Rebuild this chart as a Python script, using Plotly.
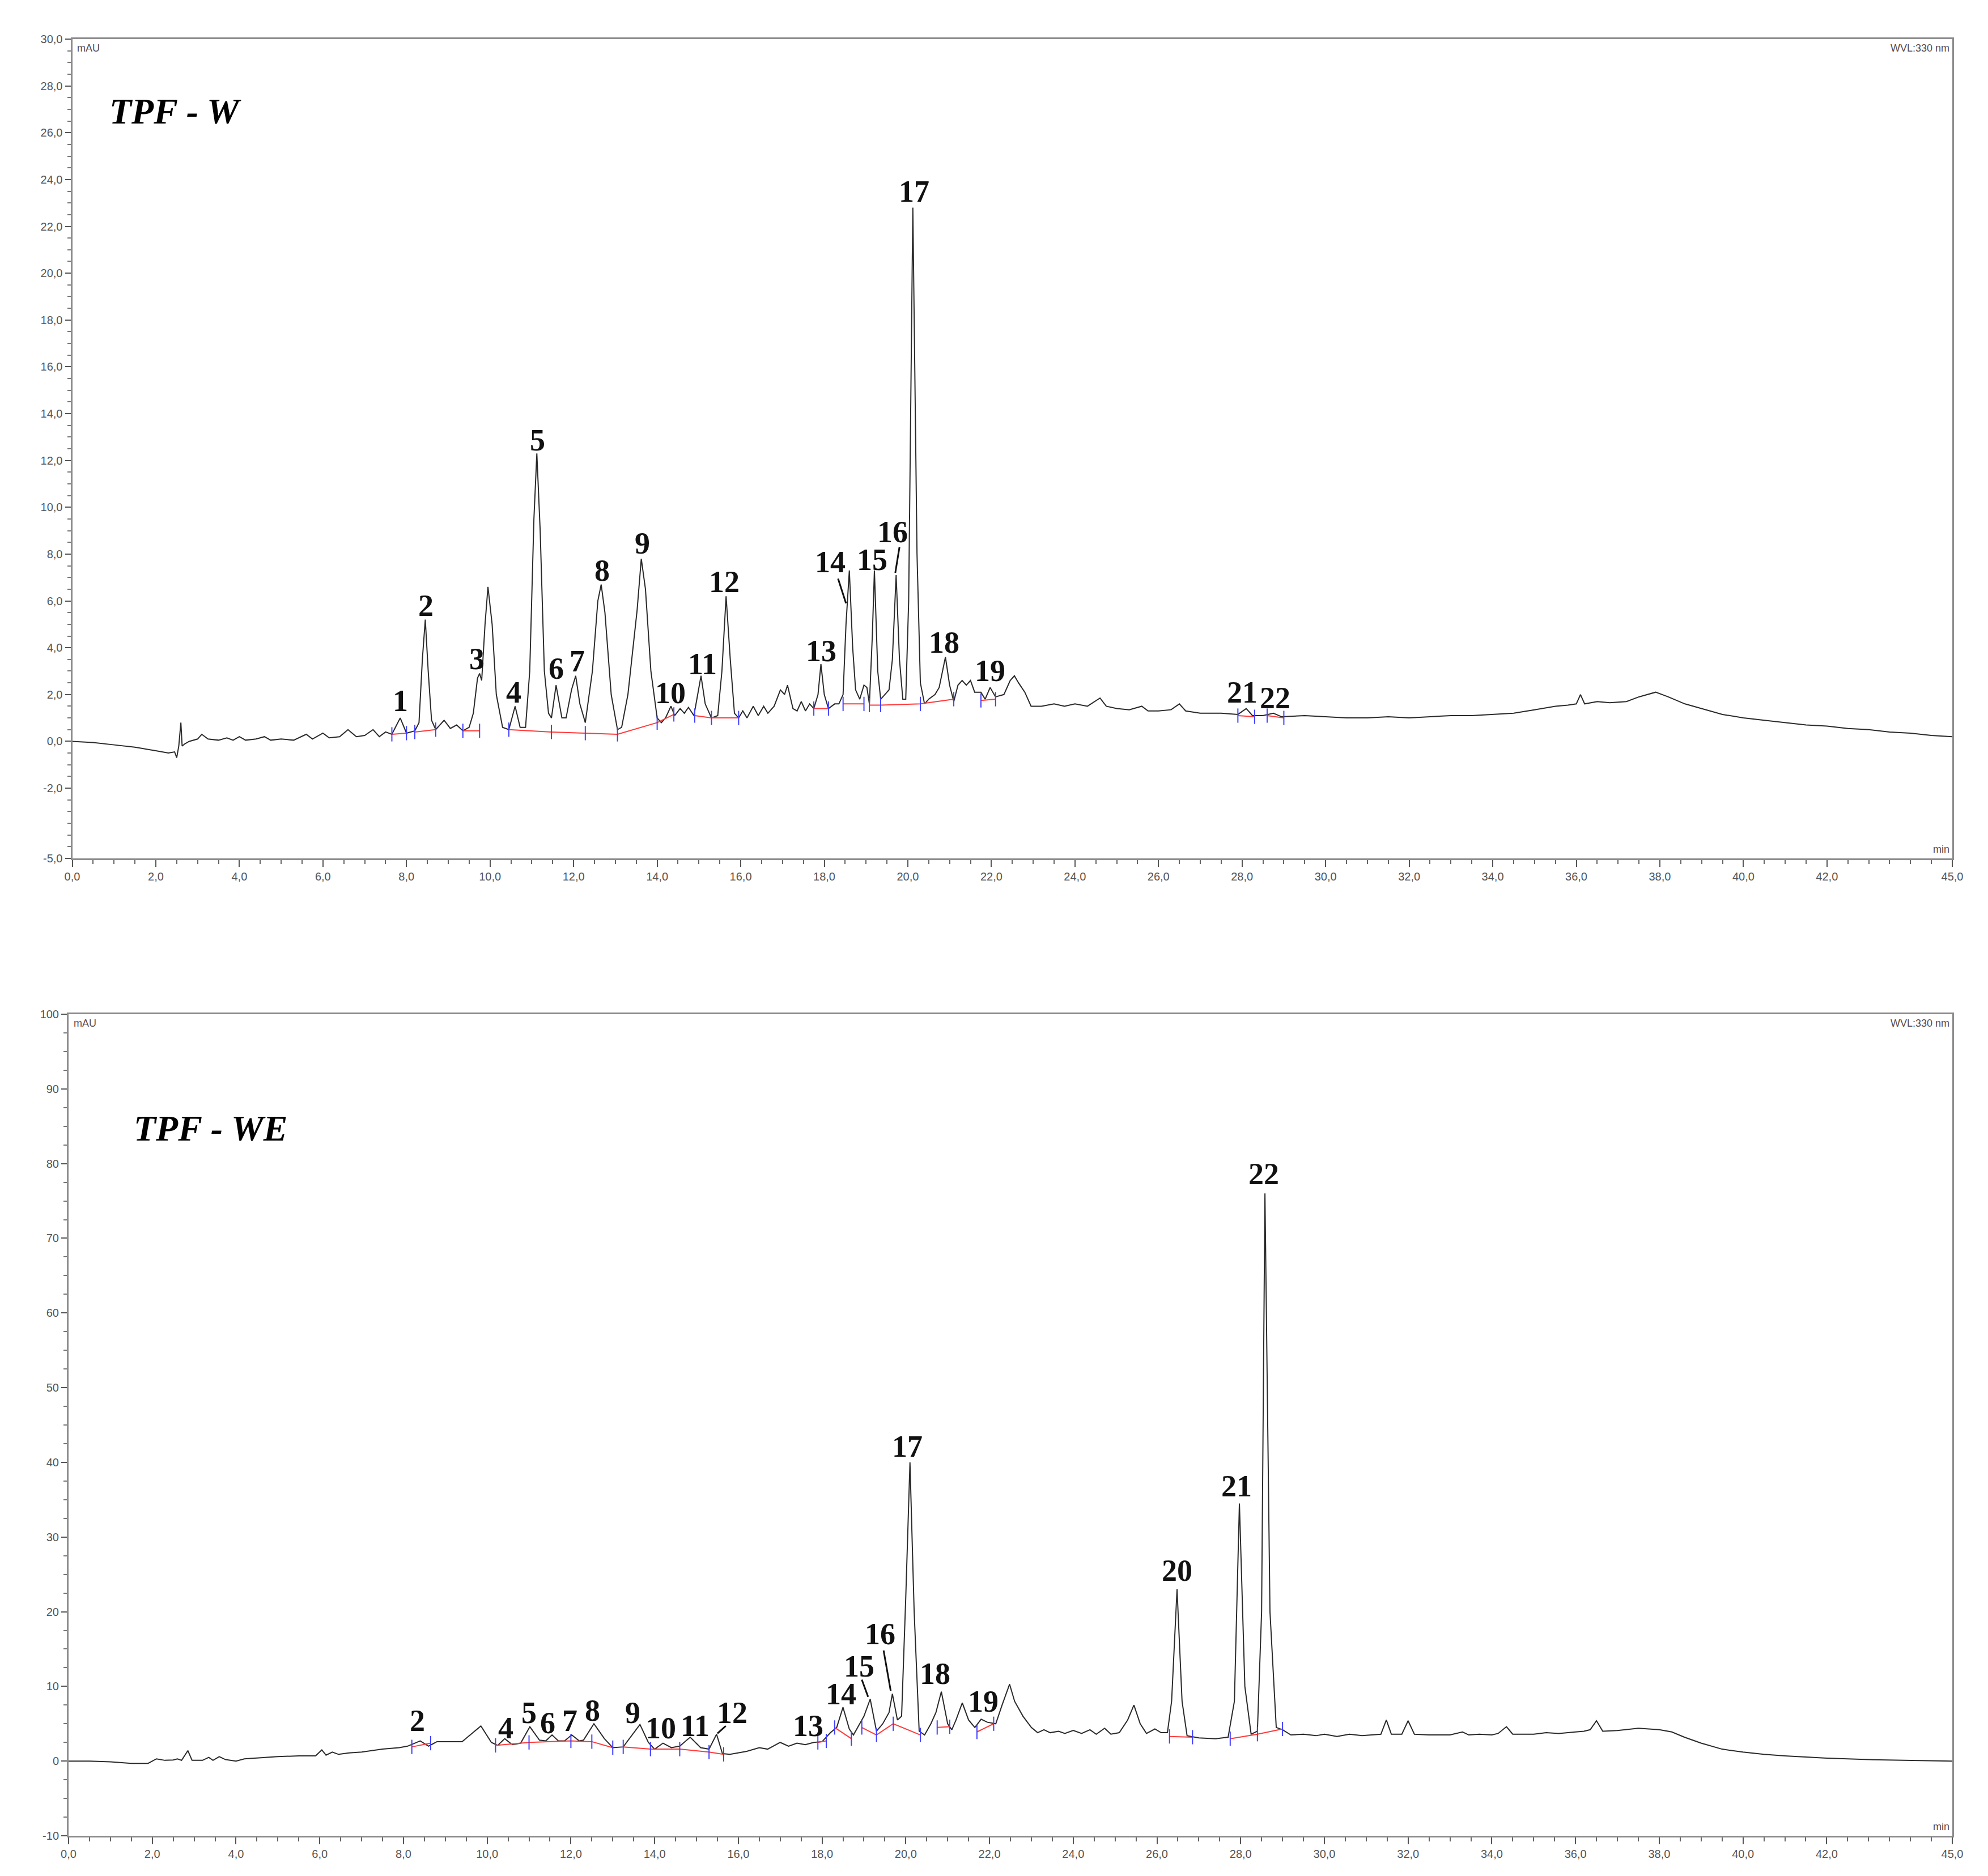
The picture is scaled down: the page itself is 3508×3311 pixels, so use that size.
import plotly.graph_objects as go

# ---------------- data: TPF - W (top chromatogram) ----------------
top_time = [0.0, 0.5, 1.0, 1.5, 2.0, 2.3, 2.45, 2.5, 2.55, 2.6, 2.63, 2.7, 2.8, 3.0, 3.1, 3.25, 3.5, 3.7, 3.85, 4.0,
            4.15, 4.4, 4.6, 4.75, 5.0, 5.3, 5.6, 5.75, 6.0, 6.15, 6.4, 6.6, 6.8, 7.0, 7.2, 7.35, 7.5, 7.65, 7.85, 8.0,
            8.2, 8.3, 8.38, 8.45, 8.52, 8.6, 8.7, 8.9, 9.05, 9.2, 9.35, 9.5, 9.6, 9.7, 9.75, 9.8, 9.88, 9.95, 10.05, 10.15,
            10.3, 10.45, 10.6, 10.72, 10.85, 10.95, 11.05, 11.12, 11.2, 11.3, 11.4, 11.47, 11.58, 11.72, 11.82, 11.95, 12.05, 12.15, 12.28, 12.45,
            12.58, 12.66, 12.75, 12.9, 13.05, 13.15, 13.3, 13.42, 13.52, 13.62, 13.72, 13.85, 14.0, 14.1, 14.2, 14.33, 14.42, 14.55, 14.65, 14.75,
            14.88, 15.05, 15.15, 15.3, 15.45, 15.55, 15.65, 15.75, 15.85, 15.95, 16.05, 16.15, 16.3, 16.42, 16.55, 16.65, 16.8, 16.95, 17.05, 17.12,
            17.25, 17.35, 17.45, 17.55, 17.65, 17.75, 17.85, 17.92, 18.0, 18.1, 18.25, 18.35, 18.45, 18.52, 18.6, 18.68, 18.75, 18.85, 18.95, 19.02,
            19.08, 19.15, 19.2, 19.28, 19.35, 19.45, 19.55, 19.63, 19.72, 19.8, 19.88, 19.95, 20.02, 20.12, 20.22, 20.3, 20.4, 20.5, 20.65, 20.75,
            20.9, 21.0, 21.1, 21.2, 21.3, 21.4, 21.5, 21.6, 21.75, 21.85, 21.97, 22.1, 22.3, 22.45, 22.55, 22.65, 22.8, 22.95, 23.2, 23.5,
            23.75, 24.0, 24.3, 24.6, 24.75, 25.0, 25.3, 25.6, 25.75, 26.0, 26.3, 26.5, 26.65, 27.0, 27.5, 27.9, 28.1, 28.25, 28.5, 28.75,
            28.95, 29.5, 30.0, 30.5, 31.0, 31.5, 32.0, 32.5, 33.0, 33.5, 34.0, 34.5, 35.0, 35.5, 35.8, 36.0, 36.1, 36.2, 36.5, 36.8,
            37.2, 37.5, 37.9, 38.2, 38.6, 39.0, 39.5, 40.0, 40.5, 41.0, 41.5, 42.0, 42.5, 43.0, 43.5, 44.0, 44.5, 45.0]
top_signal = [0.0, -0.05, -0.15, -0.25, -0.4, -0.5, -0.45, -0.7, -0.2, 0.8, -0.2, -0.1, 0.0, 0.1, 0.3, 0.1, 0.05, 0.15, 0.05, 0.2,
              0.05, 0.1, 0.2, 0.05, 0.1, 0.05, 0.3, 0.1, 0.35, 0.15, 0.2, 0.5, 0.2, 0.25, 0.5, 0.2, 0.4, 0.3, 1.0, 0.35,
              0.45, 0.8, 3.5, 5.2, 3.0, 0.9, 0.5, 0.9, 0.55, 0.7, 0.45, 0.6, 1.2, 2.7, 2.9, 2.6, 5.0, 6.6, 5.0, 2.0,
              0.6, 0.5, 1.5, 0.6, 0.6, 3.0, 9.5, 12.3, 9.0, 3.0, 1.2, 1.0, 2.4, 1.0, 1.0, 2.2, 2.8, 1.6, 0.8, 3.0,
              6.0, 6.7, 5.5, 2.0, 0.5, 0.6, 2.0, 4.0, 5.6, 7.8, 6.5, 3.0, 1.0, 0.8, 1.0, 1.5, 1.1, 1.4, 1.2, 1.45,
              1.1, 2.8, 1.6, 1.0, 1.1, 3.0, 6.2, 3.5, 1.2, 1.0, 1.3, 1.0, 1.5, 1.1, 1.5, 1.2, 1.5, 2.2, 2.0, 2.4,
              1.4, 1.3, 1.7, 1.3, 1.6, 1.4, 2.0, 3.3, 2.0, 1.4, 1.6, 1.6, 2.0, 5.0, 7.3, 4.0, 2.2, 1.8, 2.4, 2.3,
              1.6, 4.5, 7.3, 3.0, 1.8, 2.0, 2.2, 3.5, 7.1, 3.5, 1.8, 1.8, 6.0, 22.8, 8.0, 2.5, 1.6, 1.8, 2.0, 2.3,
              3.6, 2.4, 1.7, 2.4, 2.6, 2.4, 2.6, 2.1, 2.1, 1.8, 2.3, 1.9, 2.0, 2.6, 2.8, 2.5, 2.1, 1.5, 1.5, 1.6,
              1.5, 1.6, 1.5, 1.85, 1.5, 1.4, 1.35, 1.5, 1.3, 1.3, 1.35, 1.6, 1.3, 1.2, 1.2, 1.15, 1.4, 1.1, 1.1, 1.2,
              1.05, 1.1, 1.05, 1.0, 1.0, 1.05, 1.0, 1.05, 1.1, 1.1, 1.15, 1.2, 1.35, 1.5, 1.55, 1.6, 2.0, 1.6, 1.7, 1.65,
              1.7, 1.9, 2.1, 1.9, 1.6, 1.4, 1.15, 1.0, 0.9, 0.8, 0.7, 0.65, 0.55, 0.5, 0.4, 0.35, 0.25, 0.2]

top_base_t = [7.65, 8.0, None, 8.2, 8.7, None, 9.35, 9.75, None, 10.45, 11.47, 12.28, 13.05, 14.0, 14.4, None,
              14.9, 15.3, 15.95, None, 17.75, 18.1, None, 18.45, 18.95, None, 19.08, 19.35, 20.3, 21.1, None,
              21.75, 22.1, None, 27.9, 28.3, None, 28.6, 29.0]
top_base_v = [0.3, 0.35, None, 0.4, 0.5, None, 0.45, 0.45, None, 0.5, 0.4, 0.35, 0.3, 0.8, 1.15, None,
              1.1, 1.0, 1.0, None, 1.4, 1.4, None, 1.6, 1.6, None, 1.55, 1.55, 1.6, 1.8, None,
              1.75, 1.8, None, 1.1, 1.05, None, 1.1, 1.0]

top_labels = ["1", "2", "3", "4", "5", "6", "7", "8", "9", "10", "11", "12", "13", "14", "15", "16", "17", "18",
              "19", "21", "22"]
top_label_t = [7.86, 8.46, 9.68, 10.56, 11.13, 11.59, 12.08, 12.68, 13.65, 14.32, 15.08, 15.6, 17.93, 18.14, 19.14,
               19.63, 20.15, 20.87, 21.97, 28.0, 28.79]
top_label_v = [1.74, 5.8, 3.53, 2.1, 12.86, 3.1, 3.42, 7.3, 8.46, 2.06, 3.3, 6.8, 3.85, 7.65, 7.76, 8.95, 23.5, 4.23,
               3.0, 2.1, 1.85]
top_leader = [((18.33, 6.95), (18.52, 5.9)), ((19.8, 8.3), (19.7, 7.2))]

# ---------------- data: TPF - WE (bottom chromatogram) ----------------
bot_time = [0.0, 0.5, 1.0, 1.5, 1.9, 2.1, 2.3, 2.5, 2.6, 2.7, 2.85, 2.95, 3.2, 3.35, 3.45, 3.6, 3.75, 4.0, 4.2, 4.5,
            5.0, 5.5, 5.9, 6.05, 6.15, 6.3, 6.45, 6.7, 7.0, 7.5, 7.9, 8.1, 8.4, 8.6, 8.8, 9.4, 9.85, 10.1, 10.25, 10.42,
            10.6, 10.8, 11.02, 11.25, 11.4, 11.55, 11.7, 11.85, 12.02, 12.2, 12.3, 12.55, 12.8, 13.0, 13.25, 13.65, 13.85, 14.0, 14.2, 14.4,
            14.6, 14.85, 15.1, 15.3, 15.48, 15.62, 15.8, 16.2, 16.5, 16.7, 17.0, 17.2, 17.4, 17.6, 17.8, 18.0, 18.2, 18.35, 18.5, 18.65,
            18.75, 19.0, 19.15, 19.3, 19.45, 19.6, 19.68, 19.8, 19.9, 20.0, 20.1, 20.2, 20.32, 20.45, 20.6, 20.72, 20.85, 21.0, 21.1, 21.2,
            21.35, 21.5, 21.65, 21.8, 21.95, 22.15, 22.3, 22.48, 22.6, 22.8, 23.0, 23.15, 23.3, 23.45, 23.65, 23.8, 24.0, 24.2, 24.4, 24.55,
            24.75, 24.9, 25.1, 25.3, 25.45, 25.6, 25.75, 25.95, 26.1, 26.25, 26.35, 26.48, 26.6, 26.72, 27.0, 27.4, 27.7, 27.85, 27.97, 28.1,
            28.25, 28.4, 28.5, 28.58, 28.7, 28.85, 29.0, 29.2, 29.5, 29.8, 30.0, 30.3, 30.6, 30.9, 31.2, 31.35, 31.48, 31.6, 31.85, 32.0,
            32.15, 32.5, 32.8, 33.0, 33.3, 33.45, 33.7, 34.0, 34.15, 34.35, 34.5, 35.0, 35.3, 35.6, 36.0, 36.2, 36.35, 36.5, 36.65, 37.0,
            37.5, 38.0, 38.3, 38.6, 39.0, 39.5, 40.0, 40.5, 41.0, 42.0, 43.0, 44.0, 45.0]
bot_signal = [0.0, 0.0, -0.1, -0.3, -0.3, 0.3, 0.1, 0.15, 0.3, 0.1, 1.4, 0.1, 0.1, 0.5, 0.1, 0.6, 0.2, 0.0, 0.3, 0.4,
              0.6, 0.7, 0.7, 1.5, 0.8, 1.2, 0.9, 1.1, 1.2, 1.6, 1.8, 2.0, 2.7, 2.0, 2.6, 2.6, 4.7, 2.5, 2.1, 3.0,
              2.2, 2.4, 4.6, 2.8, 2.7, 3.5, 2.7, 2.7, 3.5, 2.7, 2.8, 5.0, 3.0, 1.8, 1.9, 4.9, 2.5, 1.6, 2.4, 1.8,
              2.0, 3.2, 1.8, 1.6, 3.6, 1.0, 0.9, 1.3, 1.8, 1.6, 2.5, 2.0, 2.4, 2.2, 2.5, 2.6, 3.8, 4.5, 7.2, 4.3,
              3.5, 6.0, 8.3, 4.0, 5.0, 6.5, 9.0, 5.5, 6.0, 22.0, 40.0, 20.0, 4.0, 3.5, 5.0, 6.5, 9.3, 5.0, 4.2, 5.5,
              7.8, 5.5, 4.5, 5.6, 5.2, 5.0, 7.5, 10.3, 8.0, 6.0, 4.5, 3.8, 4.2, 3.8, 4.0, 3.7, 4.1, 3.7, 4.2, 3.6,
              4.4, 3.6, 3.8, 5.5, 7.5, 5.0, 3.7, 4.3, 3.8, 3.8, 8.0, 23.0, 8.0, 3.4, 3.1, 3.0, 3.2, 8.0, 34.5, 10.0,
              3.6, 4.0, 20.0, 76.0, 20.0, 4.5, 4.2, 3.5, 3.6, 3.4, 3.6, 3.3, 3.6, 3.4, 3.5, 3.6, 5.5, 3.6, 3.6, 5.4,
              3.6, 3.5, 3.5, 3.5, 3.9, 3.5, 3.6, 3.5, 3.7, 4.6, 3.6, 3.6, 3.8, 3.7, 3.9, 4.0, 4.2, 5.4, 4.0, 4.1,
              4.4, 4.2, 3.9, 3.2, 2.4, 1.6, 1.2, 0.9, 0.7, 0.4, 0.2, 0.1, 0.0]

bot_base_t = [8.2, 8.65, None, 10.2, 11.0, 12.0, 12.5, 13.0, None, 13.25, 13.9, 14.6, 15.3, 15.65, None,
              17.9, 18.1, None, 18.3, 18.7, None, 18.95, 19.3, 19.7, 20.35, None, 20.75, 21.05, None,
              21.7, 22.1, None, 26.3, 26.85, None, 27.75, 28.4, 29.0]
bot_base_v = [1.9, 2.4, None, 2.1, 2.5, 2.7, 2.6, 1.8, None, 1.9, 1.6, 1.6, 1.2, 0.9, None,
              2.5, 2.7, None, 4.5, 3.0, None, 4.5, 3.5, 5.0, 3.5, None, 4.5, 4.6, None,
              3.9, 5.0, None, 3.3, 3.2, None, 3.0, 3.6, 4.3]

bot_labels = ["2", "4", "5", "6", "7", "8", "9", "10", "11", "12", "13", "14", "15", "16", "17", "18", "19",
              "20", "21", "22"]
bot_label_t = [8.33, 10.45, 11.0, 11.45, 11.97, 12.52, 13.48, 14.15, 14.97, 15.85, 17.67, 18.45, 18.88, 19.39,
               20.03, 20.7, 21.85, 26.48, 27.9, 28.55]
bot_label_v = [5.4, 4.4, 6.45, 5.1, 5.4, 6.8, 6.45, 4.4, 4.75, 6.45, 4.75, 9.0, 12.7, 17.0, 42.1, 11.7, 8.0,
               25.5, 36.8, 78.6]
bot_leader = [((15.7, 4.7), (15.5, 3.7)), ((18.95, 10.9), (19.1, 8.6)), ((19.47, 14.8), (19.64, 9.4))]

# tick labels
top_x_ticks = [0, 2, 4, 6, 8, 10, 12, 14, 16, 18, 20, 22, 24, 26, 28, 30, 32, 34, 36, 38, 40, 42, 45]
top_x_text = ["0,0", "2,0", "4,0", "6,0", "8,0", "10,0", "12,0", "14,0", "16,0", "18,0", "20,0", "22,0", "24,0",
              "26,0", "28,0", "30,0", "32,0", "34,0", "36,0", "38,0", "40,0", "42,0", "45,0"]
top_y_ticks = [-5, -2, 0, 2, 4, 6, 8, 10, 12, 14, 16, 18, 20, 22, 24, 26, 28, 30]
top_y_text = ["-5,0", "-2,0", "0,0", "2,0", "4,0", "6,0", "8,0", "10,0", "12,0", "14,0", "16,0", "18,0", "20,0",
              "22,0", "24,0", "26,0", "28,0", "30,0"]
bot_y_ticks = [-10, 0, 10, 20, 30, 40, 50, 60, 70, 80, 90, 100]
bot_y_text = ["-10", "0", "10", "20", "30", "40", "50", "60", "70", "80", "90", "100"]

# ---------------- figure ----------------
W, H = 3508, 3311
OFF = 8  # page body margin in the browser
TRACE = "#2a2a2a"
AXC = "#8c8c8c"
TICKFONT = dict(family="Liberation Sans, Arial", size=20, color="#555555")
LABFONT = dict(family="Liberation Serif, Times New Roman", size=54, color="#111111")
TITLEFONT = dict(family="Liberation Serif, Times New Roman", size=64, color="#000000")

fig = go.Figure()

def add_panel(xa, ya, t, s, bt, bv):
    fig.add_trace(go.Scatter(x=t, y=s, mode="lines", line=dict(color=TRACE, width=2),
                             xaxis=xa, yaxis=ya, showlegend=False, hoverinfo="skip"))
    fig.add_trace(go.Scatter(x=bt, y=bv, mode="lines", line=dict(color="#ff3b3b", width=2),
                             connectgaps=False, xaxis=xa, yaxis=ya, showlegend=False, hoverinfo="skip"))
    mt = [a for a in bt if a is not None]
    mv = [b for b in bv if b is not None]
    fig.add_trace(go.Scatter(x=mt, y=mv, mode="markers",
                             marker=dict(symbol="line-ns", size=18, line=dict(color="#3f3fff", width=2)),
                             xaxis=xa, yaxis=ya, showlegend=False, hoverinfo="skip"))

add_panel("x", "y", top_time, top_signal, top_base_t, top_base_v)
add_panel("x2", "y2", bot_time, bot_signal, bot_base_t, bot_base_v)

common_x = dict(range=[0, 45], showgrid=False, zeroline=False, showline=True, linecolor=AXC, linewidth=3,
                mirror=True, ticks="outside", ticklen=12, tickwidth=2, tickcolor="#555555", automargin=False,
                tickmode="array", tickvals=top_x_ticks, ticktext=top_x_text, tickfont=TICKFONT,
                minor=dict(tickmode="linear", tick0=0, dtick=0.5, ticks="outside", ticklen=7,
                           tickwidth=2, tickcolor="#666666", showgrid=False))

def y_axis(dom, anchor, rng, tv, tt, mdt):
    return dict(domain=dom, anchor=anchor, range=rng, showgrid=False, zeroline=False, automargin=False,
                showline=True, linecolor=AXC, linewidth=3, mirror=True, ticks="outside", ticklen=10,
                tickwidth=2, tickcolor="#555555", tickmode="array", tickvals=tv, ticktext=tt,
                tickfont=TICKFONT,
                minor=dict(tickmode="linear", tick0=0, dtick=mdt, ticks="outside", ticklen=6, tickwidth=2,
                           tickcolor="#777777", showgrid=False))

def xd(a, b):
    return [(a - OFF) / W, (b - OFF) / W]

def yd(top, bottom):
    return [1 - (bottom - OFF) / H, 1 - (top - OFF) / H]

fig.update_layout(
    width=W, height=H, margin=dict(l=0, r=0, t=0, b=0, autoexpand=False),
    paper_bgcolor="white", plot_bgcolor="white",
    xaxis=dict(domain=xd(127.5, 3445), anchor="y", **common_x),
    yaxis=y_axis(yd(69, 1515), "x", [-5, 30], top_y_ticks, top_y_text, 0.5),
    xaxis2=dict(domain=xd(121, 3445), anchor="y2", **common_x),
    yaxis2=y_axis(yd(1790, 3240), "x2", [-10, 100], bot_y_ticks, bot_y_text, 2.5),
)

annotations = []
for xr, yr, labs, lt, lv in [("x", "y", top_labels, top_label_t, top_label_v),
                             ("x2", "y2", bot_labels, bot_label_t, bot_label_v)]:
    for lab, t, v in zip(labs, lt, lv):
        annotations.append(dict(x=t, y=v, xref=xr, yref=yr, text="<b>" + lab + "</b>", showarrow=False,
                                font=LABFONT, xanchor="center", yanchor="middle"))

small = dict(family="Liberation Sans, Arial", size=18, color="#5a4a4a")
for xdm, ydm in [("x domain", "y domain"), ("x2 domain", "y2 domain")]:
    annotations.append(dict(x=0.002, y=0.997, xref=xdm, yref=ydm, text="mAU", showarrow=False,
                            xanchor="left", yanchor="top", font=small))
    annotations.append(dict(x=0.999, y=0.997, xref=xdm, yref=ydm, text="WVL:330 nm", showarrow=False,
                            xanchor="right", yanchor="top", font=small))
    annotations.append(dict(x=0.999, y=0.003, xref=xdm, yref=ydm, text="min", showarrow=False,
                            xanchor="right", yanchor="bottom", font=small))

annotations.append(dict(x=0.019, y=0.912, xref="x domain", yref="y domain", text="<b><i>TPF - W</i></b>",
                        showarrow=False, xanchor="left", yanchor="middle", font=TITLEFONT))
annotations.append(dict(x=0.034, y=0.861, xref="x2 domain", yref="y2 domain", text="<b><i>TPF - WE</i></b>",
                        showarrow=False, xanchor="left", yanchor="middle", font=TITLEFONT))
fig.update_layout(annotations=annotations)

shapes = []
for xr, yr, leads in [("x", "y", top_leader), ("x2", "y2", bot_leader)]:
    for (p0, p1) in leads:
        shapes.append(dict(type="line", xref=xr, yref=yr, x0=p0[0], y0=p0[1], x1=p1[0], y1=p1[1],
                           line=dict(color="#111111", width=3)))
fig.update_layout(shapes=shapes)

fig.write_html("out.html")
